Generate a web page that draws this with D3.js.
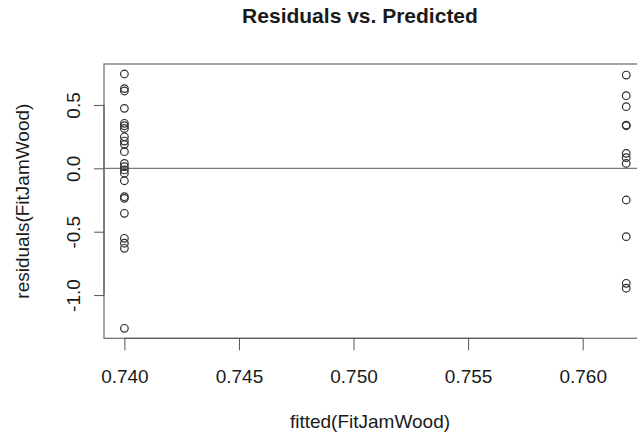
<!DOCTYPE html>
<meta charset="utf-8">
<script src="https://d3js.org/d3.v7.min.js"></script>
<style>
  body {margin: 0; background: #fff;}
  text {font-family: "Liberation Sans", Arial, Helvetica, sans-serif; fill: #1a1a1a;}
</style>
<div id="my_dataviz"></div>
<script>

// data: two fitted levels, residuals for each
var leftFitted = 0.7400,
    rightFitted = 0.7619;
var leftResiduals = [0.744, 0.629, 0.610, 0.473, 0.355, 0.336, 0.315, 0.249, 0.215, 0.189,
                     0.131, 0.039, 0.013, -0.013, -0.039, -0.098, -0.224, -0.237, -0.355,
                     -0.552, -0.591, -0.631, -1.262];
var rightResiduals = [0.736, 0.573, 0.486, 0.341, 0.336, 0.118, 0.084, 0.039, -0.250,
                      -0.539, -0.907, -0.946];
var xTicks = [0.740, 0.745, 0.750, 0.755, 0.760],
    yTicks = [-1.0, -0.5, 0.0, 0.5];

var points = leftResiduals.map(function(r) { return {fit: leftFitted, res: r}; })
  .concat(rightResiduals.map(function(r) { return {fit: rightFitted, res: r}; }));

var W = 637, H = 438;
var plot = {left: 104, right: 637, top: 64, bottom: 338.3};

var svg = d3.select("#my_dataviz")
  .append("svg")
    .attr("width", W)
    .attr("height", H);

var x = d3.scaleLinear()
  .domain([0.73911, 0.76237])
  .range([plot.left, plot.right]);

var y = d3.scaleLinear()
  .domain([-1.341, 0.823])
  .range([plot.bottom, plot.top]);

// box
svg.append("rect")
  .attr("x", plot.left)
  .attr("y", plot.top)
  .attr("width", plot.right - plot.left + 5)
  .attr("height", plot.bottom - plot.top)
  .attr("fill", "none")
  .attr("stroke", "#6a6a6a")
  .attr("stroke-width", 1.2);

// X axis
var xAxis = svg.append("g")
  .attr("transform", "translate(0," + plot.bottom + ")")
  .call(d3.axisBottom(x)
    .tickValues(xTicks)
    .tickSize(12)
    .tickSizeOuter(0)
    .tickPadding(19)
    .tickFormat(function(d) { return d.toFixed(3); }));
xAxis.select(".domain")
  .attr("d", "M" + x(xTicks[0]) + ",0H" + x(xTicks[xTicks.length - 1]))
  .attr("stroke", "#555");
xAxis.selectAll(".tick line").attr("stroke", "#555");
xAxis.selectAll("text")
  .style("font-size", "19px")
  .attr("fill", "#1a1a1a");

// Y axis
var yAxis = svg.append("g")
  .attr("transform", "translate(" + plot.left + ",0)")
  .call(d3.axisLeft(y)
    .tickValues(yTicks)
    .tickSize(10)
    .tickSizeOuter(0)
    .tickFormat(function(d) { return d.toFixed(1); }));
yAxis.select(".domain")
  .attr("d", "M0," + y(yTicks[0]) + "V" + y(yTicks[yTicks.length - 1]))
  .attr("stroke", "#555");
yAxis.selectAll(".tick line").attr("stroke", "#555");
yAxis.selectAll("text")
  .style("font-size", "19px")
  .attr("fill", "#1a1a1a")
  .attr("x", null)
  .attr("dy", null)
  .attr("text-anchor", "middle")
  .attr("transform", "translate(-24,0) rotate(-90)");

// horizontal reference line at 0
svg.append("line")
  .attr("x1", plot.left)
  .attr("x2", plot.right)
  .attr("y1", y(0))
  .attr("y2", y(0))
  .attr("stroke", "#7a7a7a")
  .attr("stroke-width", 1.2);

// points
svg.selectAll("mycircle")
  .data(points)
  .enter()
  .append("circle")
    .attr("cx", function(d) { return x(d.fit); })
    .attr("cy", function(d) { return y(d.res); })
    .attr("r", 3.8)
    .attr("fill", "none")
    .attr("stroke", "#2e2e2e")
    .attr("stroke-width", 1.2);

// titles
svg.append("text")
  .attr("x", 360)
  .attr("y", 23)
  .attr("text-anchor", "middle")
  .style("font-size", "21px")
  .style("font-weight", "bold")
  .text("Residuals vs. Predicted");

svg.append("text")
  .attr("x", 370)
  .attr("y", 428)
  .attr("text-anchor", "middle")
  .style("font-size", "19px")
  .text("fitted(FitJamWood)");

svg.append("text")
  .attr("transform", "translate(29," + ((plot.top + plot.bottom) / 2) + ") rotate(-90)")
  .attr("text-anchor", "middle")
  .style("font-size", "19px")
  .text("residuals(FitJamWood)");

</script>
